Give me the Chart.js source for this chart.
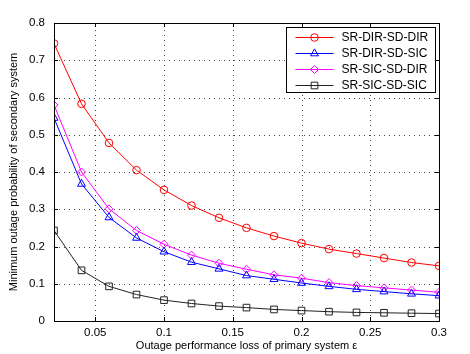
<!DOCTYPE html>
<html><head><meta charset="utf-8">
<script src="https://cdn.jsdelivr.net/npm/chart.js@4/dist/chart.umd.min.js"></script>
<style>html,body{margin:0;padding:0;background:#fff}#wrap{width:470px;height:354px}</style>
</head><body><div id="wrap"><canvas id="c" width="470" height="354"></canvas></div>
<script>
const epsilon = [0.02,0.04,0.06,0.08,0.10,0.12,0.14,0.16,0.18,0.20,0.22,0.24,0.26,0.28,0.30];
const seriesNames = ['SR-DIR-SD-DIR','SR-DIR-SD-SIC','SR-SIC-SD-DIR','SR-SIC-SD-SIC'];
const srDirSdDir = [0.745,0.583,0.478,0.405,0.352,0.310,0.277,0.250,0.228,0.209,0.193,0.181,0.169,0.157,0.148];
const srDirSdSic = [0.545,0.368,0.278,0.223,0.186,0.158,0.140,0.122,0.112,0.102,0.093,0.085,0.079,0.073,0.068];
const srSicSdDir = [0.580,0.400,0.301,0.243,0.206,0.177,0.155,0.139,0.124,0.115,0.103,0.095,0.089,0.083,0.077];
const srSicSdSic = [0.243,0.136,0.093,0.071,0.056,0.047,0.040,0.036,0.031,0.028,0.025,0.023,0.022,0.021,0.020];
const xTicks = [0.05,0.1,0.15,0.2,0.25,0.3];
const yTicks = [0,0.1,0.2,0.3,0.4,0.5,0.6,0.7,0.8];
const xTitle = 'Outage performance loss of primary system ε';
const yTitle = 'Minimum outage probability of secondary system';

const colors = ['#ff0000','#0000ff','#ff00ff','#222222'];
const styles = ['circle','triangle','rectRot','rect'];
const radii = [3.8,4.6,4.0,4.7];
const values = [srDirSdDir,srDirSdSic,srSicSdDir,srSicSdSic];
const FONT = 'Liberation Sans, Arial, sans-serif';

function mk(i){
  return {
    label: seriesNames[i],
    data: epsilon.map((x,k)=>({x:x,y:values[i][k]})),
    borderColor: colors[i], borderWidth: 1,
    pointStyle: styles[i], pointRadius: radii[i], pointBorderWidth: 1,
    pointBorderColor: colors[i], pointBackgroundColor: 'rgba(0,0,0,0)',
    pointHoverRadius: radii[i], tension: 0, fill: false
  };
}

function drawMarker(ctx, style, r, x, y, color){
  ctx.save();
  ctx.strokeStyle = color; ctx.lineWidth = 1;
  ctx.beginPath();
  if (style==='circle'){ ctx.arc(x,y,r,0,Math.PI*2); }
  else if (style==='triangle'){
    for (let k=0;k<3;k++){ const a = k*2*Math.PI/3; const px = x+Math.sin(a)*r, py = y-Math.cos(a)*r; k?ctx.lineTo(px,py):ctx.moveTo(px,py);} ctx.closePath();
  } else if (style==='rectRot'){
    ctx.moveTo(x,y-r);ctx.lineTo(x+r,y);ctx.lineTo(x,y+r);ctx.lineTo(x-r,y);ctx.closePath();
  } else { const s=r*Math.SQRT1_2; ctx.rect(x-s,y-s,2*s,2*s); }
  ctx.stroke();
  ctx.restore();
}

const gridPlugin = {
  id:'dotgrid',
  beforeDatasetsDraw(chart){
    const ctx = chart.ctx, a = chart.chartArea;
    const xs = chart.scales.x, ys = chart.scales.y;
    ctx.save();
    ctx.strokeStyle = '#444'; ctx.lineWidth = 1; ctx.setLineDash([1,4]);
    ctx.beginPath();
    xTicks.forEach(v=>{ const p = Math.round(xs.getPixelForValue(v))+0.5; ctx.moveTo(p,a.bottom); ctx.lineTo(p,a.top); });
    yTicks.forEach(v=>{ const p = Math.round(ys.getPixelForValue(v))+0.5; ctx.moveTo(a.left,p); ctx.lineTo(a.right,p); });
    ctx.stroke();
    ctx.restore();
  }
};

const framePlugin = {
  id:'frame',
  afterDraw(chart){
    const ctx = chart.ctx, a = chart.chartArea;
    const xs = chart.scales.x, ys = chart.scales.y;
    ctx.save();
    ctx.strokeStyle = '#000'; ctx.lineWidth = 1;
    ctx.strokeRect(Math.round(a.left)+0.5, Math.round(a.top)+0.5, Math.round(a.right-a.left), Math.round(a.bottom-a.top));
    ctx.beginPath();
    const T = 4;
    xTicks.forEach(v=>{ const p = Math.round(xs.getPixelForValue(v))+0.5;
      ctx.moveTo(p,a.bottom); ctx.lineTo(p,a.bottom-T); ctx.moveTo(p,a.top); ctx.lineTo(p,a.top+T); });
    yTicks.forEach(v=>{ const p = Math.round(ys.getPixelForValue(v))+0.5;
      ctx.moveTo(a.left,p); ctx.lineTo(a.left+T,p); ctx.moveTo(a.right,p); ctx.lineTo(a.right-T,p); });
    ctx.stroke();
    // legend
    const bw = 149, bh = 65;
    const bx = Math.round(a.right - 4 - bw) + 0.5, by = Math.round(a.top + 4) + 0.5;
    ctx.fillStyle = '#fff'; ctx.fillRect(bx,by,bw,bh);
    ctx.strokeStyle = '#000'; ctx.strokeRect(bx,by,bw,bh);
    ctx.font = '12px ' + FONT; ctx.textBaseline = 'middle'; ctx.textAlign = 'left';
    for (let i=0;i<4;i++){
      const yy = by + 10 + i*16;
      ctx.strokeStyle = colors[i]; ctx.lineWidth = 1;
      ctx.beginPath(); ctx.moveTo(bx+9,yy); ctx.lineTo(bx+47,yy); ctx.stroke();
      drawMarker(ctx, styles[i], radii[i], bx+28, yy, colors[i]);
      ctx.fillStyle = '#000';
      ctx.fillText(seriesNames[i], bx+55, yy+0.5);
    }
    ctx.restore();
  }
};

new Chart(document.getElementById('c'), {
  type:'line',
  data:{ datasets:[mk(0),mk(1),mk(2),mk(3)] },
  options:{
    responsive:false, animation:false, devicePixelRatio:1,
    layout:{ padding:{ left:0, right:31, top:23, bottom:0 } },
    plugins:{ legend:{display:false}, tooltip:{enabled:false} },
    scales:{
      x:{ type:'linear', min:0.02, max:0.3,
        afterBuildTicks(s){ s.ticks = xTicks.map(v=>({value:v})); },
        afterFit(s){ s.height = 33; },
        grid:{ display:false, drawTicks:false },
        border:{ display:false },
        ticks:{ color:'#000', padding:5, maxRotation:0, autoSkip:false, font:{family:FONT,size:11.5}, callback:(v)=>String(v) },
        title:{ display:true, text:xTitle, color:'#000', font:{family:FONT,size:11}, padding:{top:0,bottom:1} }
      },
      y:{ type:'linear', min:0, max:0.8,
        afterBuildTicks(s){ s.ticks = yTicks.map(v=>({value:v})); },
        afterFit(s){ s.width = 54; },
        grid:{ display:false, drawTicks:false },
        border:{ display:false },
        ticks:{ color:'#000', padding:9, autoSkip:false, font:{family:FONT,size:11.5}, callback:(v)=>String(v) },
        title:{ display:true, text:yTitle, color:'#000', font:{family:FONT,size:11}, padding:{top:7,bottom:0} }
      }
    }
  },
  plugins:[gridPlugin, framePlugin]
});
</script></body></html>
